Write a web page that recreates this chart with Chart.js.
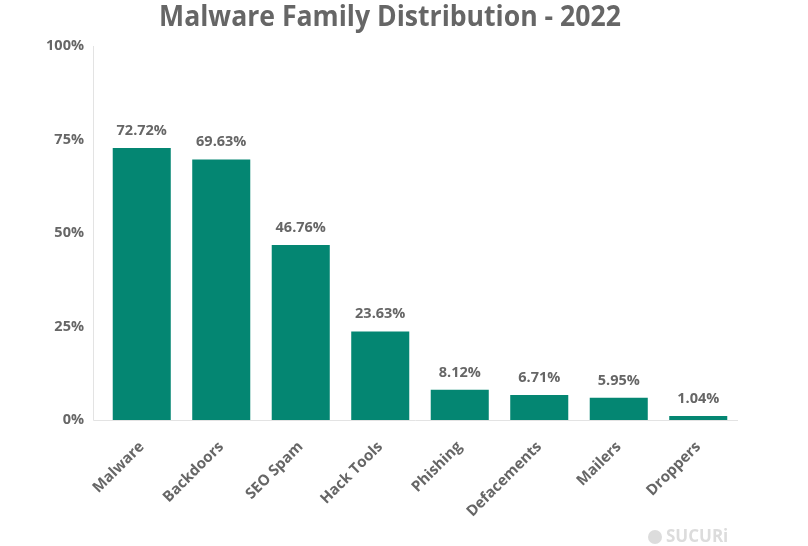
<!DOCTYPE html>
<html>
<head>
<meta charset="utf-8">
<script src="https://cdn.jsdelivr.net/npm/chart.js@4"></script>
<style>
  html, body { margin: 0; padding: 0; background: #fff; }
  #wrap { width: 808px; height: 546px; }
</style>
</head>
<body>
<div id="wrap"><canvas id="myChart" width="808" height="546"></canvas></div>
<script>
// chart data
var families = ['Malware', 'Backdoors', 'SEO Spam', 'Hack Tools', 'Phishing', 'Defacements', 'Mailers', 'Droppers'];
var shares = [72.72, 69.63, 46.76, 23.63, 8.12, 6.71, 5.95, 1.04];
var yTicks = [0, 25, 50, 75, 100];

var grey = '#666666';
var font = '"Open Sans", sans-serif';

// title, value labels, axis lines and watermark
var extras = {
    id: 'extras',
    beforeDatasetsDraw: function(chart) {
        var ctx = chart.ctx;
        var area = chart.chartArea;
        ctx.save();
        ctx.strokeStyle = '#e3e3e3';
        ctx.lineWidth = 1;
        ctx.beginPath();
        ctx.moveTo(93.5, area.top);
        ctx.lineTo(93.5, area.bottom + 0.5);
        ctx.lineTo(area.right, area.bottom + 0.5);
        ctx.stroke();
        ctx.restore();
    },
    afterDatasetsDraw: function(chart) {
        var ctx = chart.ctx;
        ctx.save();
        ctx.fillStyle = grey;
        // title, squeezed a bit to look condensed
        ctx.save();
        ctx.translate(390, 18);
        ctx.scale(0.95, 1);
        ctx.font = 'bold 28px ' + font;
        ctx.textAlign = 'center';
        ctx.textBaseline = 'middle';
        ctx.fillText('Malware Family Distribution - 2022', 0, 0);
        ctx.restore();

        ctx.font = 'bold 14.5px ' + font;
        ctx.textAlign = 'center';
        ctx.textBaseline = 'bottom';
        var meta = chart.getDatasetMeta(0);
        meta.data.forEach(function(bar, i) {
            ctx.fillText(shares[i].toFixed(2) + '%', bar.x, bar.y - 10);
        });

        ctx.fillStyle = '#dcdcdc';
        ctx.font = 'bold 17px ' + font;
        ctx.textAlign = 'left';
        ctx.textBaseline = 'middle';
        ctx.fillText('SUCURi', 666, 537);
        ctx.beginPath();
        ctx.arc(655, 537, 7, 0, Math.PI * 2);
        ctx.fill();
        ctx.restore();
    }
};

var ctx = document.getElementById('myChart').getContext('2d');
var myChart = new Chart(ctx, {
    type: 'bar',
    data: {
        labels: families,
        datasets: [{
            data: shares,
            backgroundColor: '#048672',
            borderWidth: 0,
            barPercentage: 0.73,
            categoryPercentage: 1
        }]
    },
    options: {
        responsive: false,
        animation: false,
        layout: { padding: { top: 46, right: 70, bottom: 0, left: 0 } },
        plugins: {
            legend: { display: false },
            tooltip: { enabled: false }
        },
        scales: {
            x: {
                grid: { display: false, drawTicks: false },
                border: { display: false },
                ticks: {
                    color: grey,
                    font: { family: font, size: 15, weight: 'bold' },
                    minRotation: 45,
                    maxRotation: 45,
                    autoSkip: false,
                    padding: 18
                },
                afterFit: function(scale) { scale.height = 126; }
            },
            y: {
                min: 0,
                max: 100,
                grid: { display: false, drawTicks: false },
                border: { display: false },
                afterBuildTicks: function(scale) {
                    scale.ticks = yTicks.map(function(v) { return { value: v }; });
                },
                ticks: {
                    color: grey,
                    font: { family: font, size: 14.5, weight: 'bold' },
                    padding: 18,
                    callback: function(v) { return v + '%'; }
                },
                afterFit: function(scale) { scale.width = 102; }
            }
        }
    },
    plugins: [extras]
});
</script>
</body>
</html>
